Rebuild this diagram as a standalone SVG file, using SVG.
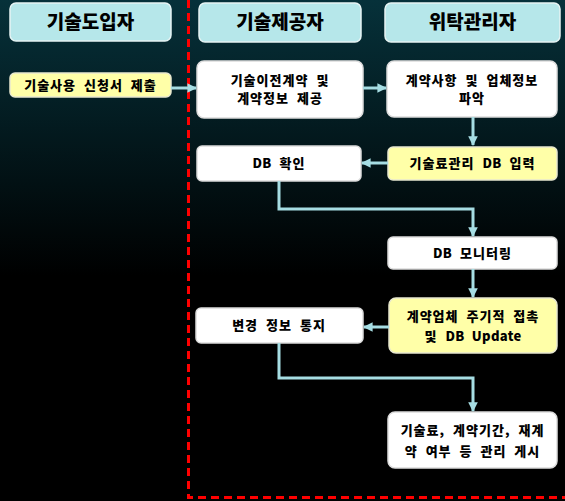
<svg xmlns="http://www.w3.org/2000/svg" width="565" height="501" viewBox="0 0 565 501">
<defs>
<linearGradient id="bg" x1="0" y1="0" x2="0" y2="1">
<stop offset="0" stop-color="#06313a"/>
<stop offset="0.55" stop-color="#000000"/>
<stop offset="1" stop-color="#000000"/>
</linearGradient>
<marker id="ah" viewBox="0 0 10 10" refX="9" refY="5" markerWidth="3.2" markerHeight="3.2" orient="auto" markerUnits="strokeWidth">
<path d="M0,0 L10,5 L0,10 z" fill="#a6dde3"/>
</marker>
<style>
.hd{fill:#b6e7ea;stroke:#e6f4f4;stroke-width:1.5}
.wb{fill:#ffffff;stroke:#dcdcdc;stroke-width:1.5}
.yb{fill:#ffffa8;stroke:#e8e8d0;stroke-width:1.5}
.ht{font-family:"Noto Sans CJK KR","Noto Sans",sans-serif;font-weight:900;font-size:19px;fill:#000;text-anchor:middle}
.bt{font-family:"Noto Sans CJK KR","Noto Sans",sans-serif;font-weight:900;font-size:13px;letter-spacing:1px;word-spacing:4px;fill:#000;text-anchor:middle}
.la{letter-spacing:0.3px}
.cn{fill:none;stroke:#a6dde3;stroke-width:3;marker-end:url(#ah)}
</style>
</defs>
<rect x="0" y="0" width="565" height="501" fill="url(#bg)"/>
<path d="M188.5,0 V497.5 H565" fill="none" stroke="#ff0000" stroke-width="3" stroke-dasharray="8,5"/>

<g id="h1"><rect class="hd" x="10" y="3" width="161" height="38" rx="6"/><text class="ht" x="90.5" y="29">기술도입자</text></g>
<g id="h2"><rect class="hd" x="199" y="3" width="162" height="39" rx="6"/><text class="ht" x="280" y="29">기술제공자</text></g>
<g id="h3"><rect class="hd" x="385" y="3" width="175" height="39" rx="6"/><text class="ht" x="472.5" y="29">위탁관리자</text></g>

<g id="n1"><rect class="yb" x="10" y="73" width="161" height="24" rx="5"/><text class="bt" x="90.5" y="90">기술사용 신청서 제출</text></g>
<g id="n2"><rect class="wb" x="197" y="61" width="166" height="57" rx="7"/><text class="bt" x="280" y="85">기술이전계약 및</text><text class="bt" x="280" y="103">계약정보 제공</text></g>
<g id="n3"><rect class="wb" x="387" y="61" width="170" height="56" rx="7"/><text class="bt" x="472" y="85">계약사항 및 업체정보</text><text class="bt" x="472" y="103">파악</text></g>
<g id="n4"><rect class="wb" x="197" y="146" width="164" height="35" rx="5"/><text class="bt" x="279" y="168"><tspan class="la">DB</tspan> 확인</text></g>
<g id="n5"><rect class="yb" x="388" y="147" width="169" height="33" rx="5"/><text class="bt" x="472.5" y="168">기술료관리 <tspan class="la">DB</tspan> 입력</text></g>
<g id="n6"><rect class="wb" x="388" y="237" width="169" height="32" rx="5"/><text class="bt" x="472.5" y="258"><tspan class="la">DB</tspan> 모니터링</text></g>
<g id="n7"><rect class="yb" x="389" y="298" width="168" height="55" rx="7"/><text class="bt" x="473" y="321">계약업체 주기적 접촉</text><text class="bt" x="473" y="341">및 <tspan class="la">DB Update</tspan></text></g>
<g id="n8"><rect class="wb" x="196" y="308" width="167" height="35" rx="5"/><text class="bt" x="279" y="330">변경 정보 통지</text></g>
<g id="n9"><rect class="wb" x="388" y="412" width="169" height="56" rx="7"/><text class="bt" x="472.5" y="435">기술료, 계약기간, 재계</text><text class="bt" x="472.5" y="456">약 여부 등 관리 게시</text></g>

<g id="connectors">
<path class="cn" d="M171,88 H196"/>
<path class="cn" d="M363,88 H386"/>
<path class="cn" d="M473,117 V145"/>
<path class="cn" d="M388,163 H362"/>
<path class="cn" d="M279,181 V209 H473 V236"/>
<path class="cn" d="M473,269 V297"/>
<path class="cn" d="M389,327 H364"/>
<path class="cn" d="M279,343 V378 H473 V411"/>
</g>
</svg>
